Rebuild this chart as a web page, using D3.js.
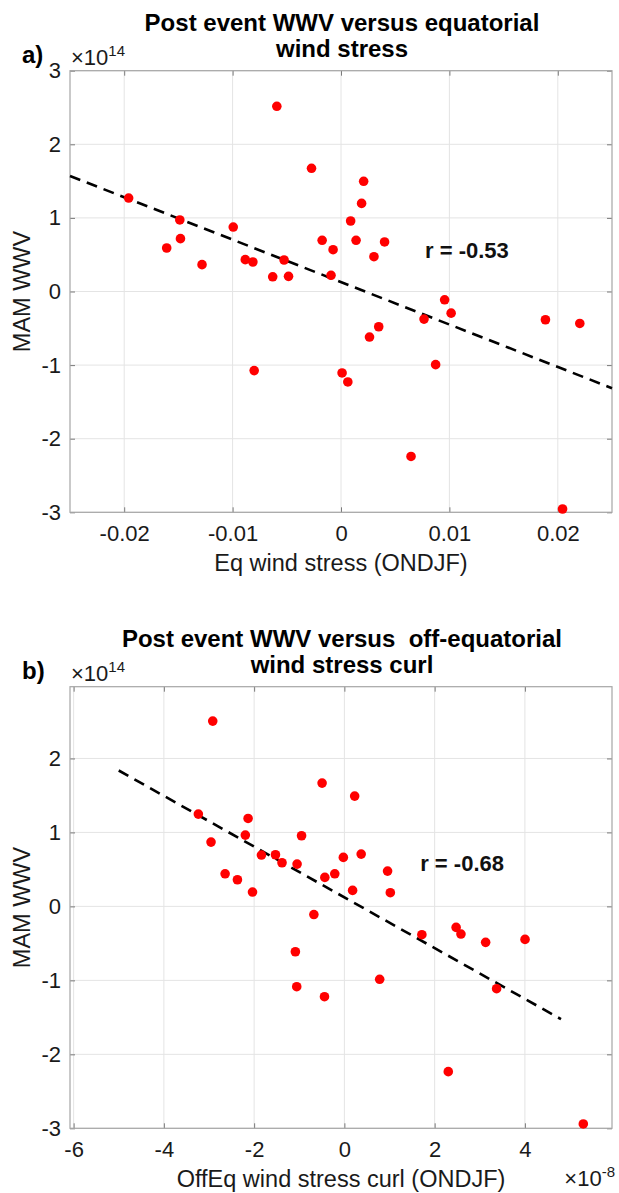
<!DOCTYPE html>
<html>
<head>
<meta charset="utf-8">
<script src="https://cdn.jsdelivr.net/npm/d3@7"></script>
<style>
  html, body { margin: 0; padding: 0; background: #fff; }
  svg text { font-family: "Liberation Sans", Arial, Helvetica, sans-serif; }
</style>
</head>
<body>
<svg id="fig" width="619" height="1193"></svg>
<script>
// ---- Panel a: equatorial wind stress (ONDJF) vs MAM WWV (x 1e14) ----
const eqStress = [
  -0.00592, -0.00272, 0.00209, 0.00190, -0.01959, -0.01487, -0.00994, 0.00089,
  -0.01608, -0.01481, -0.01282, -0.00883, -0.00813, -0.00525, -0.00630, -0.00484,
  -0.00174, -0.00073, 0.00139, 0.00402, 0.00304, -0.00092, 0.00956, 0.01016,
  0.00766, 0.00348, 0.00263, 0.00873, -0.00801, 0.00010, 0.00063, 0.00646,
  0.01886, 0.02203, 0.02044
];
const wwvA = [
  2.516, 1.674, 1.497, 1.197, 1.270, 0.972, 0.876, 0.958,
  0.591, 0.718, 0.365, 0.433, 0.401, 0.428, 0.200, 0.206,
  0.696, 0.568, 0.696, 0.673, 0.473, 0.220, -0.113, -0.294,
  -0.375, -0.479, -0.619, -0.994, -1.075, -1.107, -1.229, -2.241,
  -0.384, -0.434, -2.955
];
// least-squares line: [intercept, slope] and its x extent
const fitCoefA = [0.128, -57.66];
const fitRangeA = [-0.025, 0.025];
const rTextA = "r = -0.53";
const rPosA = [0.00775, 0.554];

// ---- Panel b: off-equatorial wind stress curl (ONDJF, x 1e-8) vs MAM WWV ----
const offEqCurl = [
  -2.917, -0.494, 0.228, -3.236, -2.134, -2.195, -2.955, -0.949,
  -1.838, -1.527, -1.382, -1.048, -0.023, 0.372, -2.643, -2.370,
  -2.036, -0.433, -0.213, 0.182, 0.957, 1.018, -0.676, -1.086,
  1.717, 2.476, 2.583, 3.130, 4.003, -1.056, -0.441, 0.782,
  3.373, 2.302, 5.294
];
const wwvB = [
  2.505, 1.667, 1.491, 1.248, 1.189, 0.964, 0.869, 0.955,
  0.694, 0.698, 0.590, 0.572, 0.662, 0.707, 0.441, 0.360,
  0.194, 0.392, 0.441, 0.216, 0.477, 0.185, -0.110, -0.613,
  -0.383, -0.284, -0.374, -0.486, -0.446, -1.086, -1.221, -0.986,
  -1.113, -2.234, -2.941
];
const fitCoefB = [0.122, -0.343];
const fitRangeB = [-5.0, 4.8];
const rTextB = "r = -0.68";
const rPosB = [1.68, 0.58];

// ---- Axis ticks ----
const xTicksA = [-0.02, -0.01, 0, 0.01, 0.02];
const xTickLabelsA = ["-0.02", "-0.01", "0", "0.01", "0.02"];
const yTicksA = [-3, -2, -1, 0, 1, 2, 3];
const xTicksB = [-6, -4, -2, 0, 2, 4];
const yTicksB = [-3, -2, -1, 0, 1, 2];

const svg = d3.select("#fig");
const plotLeft = 70, plotRight = 612;

function drawPanel(cfg) {
  const top = cfg.top, bottom = cfg.bottom;
  const x = d3.scaleLinear().domain(cfg.xDomain).range([plotLeft, plotRight]);
  const y = d3.scaleLinear().domain(cfg.yDomain).range([bottom, top]);
  const g = svg.append("g");

  // grid
  g.append("g").selectAll("line.gx").data(cfg.xTicks).join("line")
    .attr("x1", d => x(d)).attr("x2", d => x(d))
    .attr("y1", top).attr("y2", bottom)
    .attr("stroke", "#e4e4e4").attr("stroke-width", 1);
  g.append("g").selectAll("line.gy").data(cfg.yTicks).join("line")
    .attr("x1", plotLeft).attr("x2", plotRight)
    .attr("y1", d => y(d)).attr("y2", d => y(d))
    .attr("stroke", "#e4e4e4").attr("stroke-width", 1);

  // axes via d3 axis generators (inward ticks on all four sides)
  const tickLen = 5;
  const styleAxis = sel => {
    sel.select(".domain").remove();
    sel.selectAll(".tick line").attr("stroke", "#7a7a7a").attr("stroke-width", 1);
  };
  const bottomAxis = g.append("g").attr("transform", `translate(0,${bottom})`)
    .call(d3.axisBottom(x).tickValues(cfg.xTicks).tickSize(-tickLen)
      .tickFormat((d, i) => cfg.xTickLabels[i]).tickPadding(13));
  styleAxis(bottomAxis);
  bottomAxis.selectAll(".tick text").attr("font-size", 22).attr("fill", "#1a1a1a")
    .attr("font-family", "Liberation Sans, Arial, sans-serif");
  const topAxis = g.append("g").attr("transform", `translate(0,${top})`)
    .call(d3.axisTop(x).tickValues(cfg.xTicks).tickSize(-tickLen).tickFormat(""));
  styleAxis(topAxis);
  const leftAxis = g.append("g").attr("transform", `translate(${plotLeft},0)`)
    .call(d3.axisLeft(y).tickValues(cfg.yTicks).tickSize(-tickLen)
      .tickFormat(d3.format("d")).tickPadding(9));
  styleAxis(leftAxis);
  leftAxis.selectAll(".tick text").attr("font-size", 22).attr("fill", "#1a1a1a")
    .attr("font-family", "Liberation Sans, Arial, sans-serif")
    .text(d => String(d).replace("\u2212", "-"));
  const rightAxis = g.append("g").attr("transform", `translate(${plotRight},0)`)
    .call(d3.axisRight(y).tickValues(cfg.yTicks).tickSize(-tickLen).tickFormat(""));
  styleAxis(rightAxis);

  // box
  g.append("rect").attr("x", plotLeft).attr("y", top)
    .attr("width", plotRight - plotLeft).attr("height", bottom - top)
    .attr("fill", "none").attr("stroke", "#a6a6a6").attr("stroke-width", 1.2);

  // regression line
  const fitLine = cfg.fitRange.map(v => [v, cfg.fitCoef[0] + cfg.fitCoef[1] * v]);
  g.append("path").datum(fitLine)
    .attr("d", d3.line().x(d => x(d[0])).y(d => y(d[1])))
    .attr("fill", "none").attr("stroke", "#000").attr("stroke-width", 2.6)
    .attr("stroke-dasharray", "11,7");

  // points
  g.append("g").selectAll("circle").data(d3.zip(cfg.xs, cfg.ys)).join("circle")
    .attr("cx", d => x(d[0])).attr("cy", d => y(d[1])).attr("r", 4.8)
    .attr("fill", "#ff0000");

  // correlation label
  g.append("text").attr("x", x(cfg.rPos[0])).attr("y", y(cfg.rPos[1]))
    .attr("dy", "0.35em").attr("font-size", 22).attr("font-weight", "bold")
    .attr("fill", "#111").text(cfg.rText);

  // title (two lines)
  cfg.title.forEach((line, i) => {
    g.append("text").attr("x", 342).attr("y", top - 40 + i * 26.6)
      .attr("text-anchor", "middle").attr("font-size", 24).attr("font-weight", "bold")
      .attr("fill", "#000").style("white-space", "pre").text(line);
  });

  // panel letter
  g.append("text").attr("x", 22).attr("y", top - 8)
    .attr("font-size", 24).attr("font-weight", "bold").attr("fill", "#000")
    .text(cfg.letter);

  // y exponent
  const ye = g.append("text").attr("x", 71).attr("y", top - 6)
    .attr("font-size", 22).attr("fill", "#1a1a1a");
  ye.append("tspan").text("\u00d710");
  ye.append("tspan").attr("font-size", 15).attr("dy", -9).text("14");

  // axis labels
  g.append("text").attr("x", 341).attr("y", bottom + 58.5)
    .attr("text-anchor", "middle").attr("font-size", 23.5).attr("fill", "#1a1a1a")
    .text(cfg.xLabel);
  g.append("text")
    .attr("transform", `translate(30,${(top + bottom) / 2}) rotate(-90)`)
    .attr("text-anchor", "middle").attr("font-size", 23.5).attr("fill", "#1a1a1a")
    .text("MAM WWV");

  // x exponent
  if (cfg.xExp) {
    const xe = g.append("text").attr("x", plotRight + 3).attr("y", bottom + 58)
      .attr("text-anchor", "end").attr("font-size", 22).attr("fill", "#1a1a1a");
    xe.append("tspan").text("\u00d710");
    xe.append("tspan").attr("font-size", 15).attr("dy", -9).text(cfg.xExp);
  }
}

drawPanel({
  top: 70.7, bottom: 512.3,
  xDomain: [-0.025, 0.025], yDomain: [-3, 3],
  xTicks: xTicksA, xTickLabels: xTickLabelsA, yTicks: yTicksA,
  xs: eqStress, ys: wwvA,
  fitCoef: fitCoefA, fitRange: fitRangeA,
  rText: rTextA, rPos: rPosA,
  title: ["Post event WWV versus equatorial", "wind stress"],
  letter: "a)",
  xLabel: "Eq wind stress (ONDJF)",
  xExp: null
});

drawPanel({
  top: 686.7, bottom: 1128.3,
  xDomain: [-6.08, 5.93], yDomain: [-3, 2.97],
  xTicks: xTicksB, xTickLabels: xTicksB.map(String), yTicks: yTicksB,
  xs: offEqCurl, ys: wwvB,
  fitCoef: fitCoefB, fitRange: fitRangeB,
  rText: rTextB, rPos: rPosB,
  title: ["Post event WWV versus  off-equatorial", "wind stress curl"],
  letter: "b)",
  xLabel: "OffEq wind stress curl (ONDJF)",
  xExp: "-8"
});
</script>
</body>
</html>
